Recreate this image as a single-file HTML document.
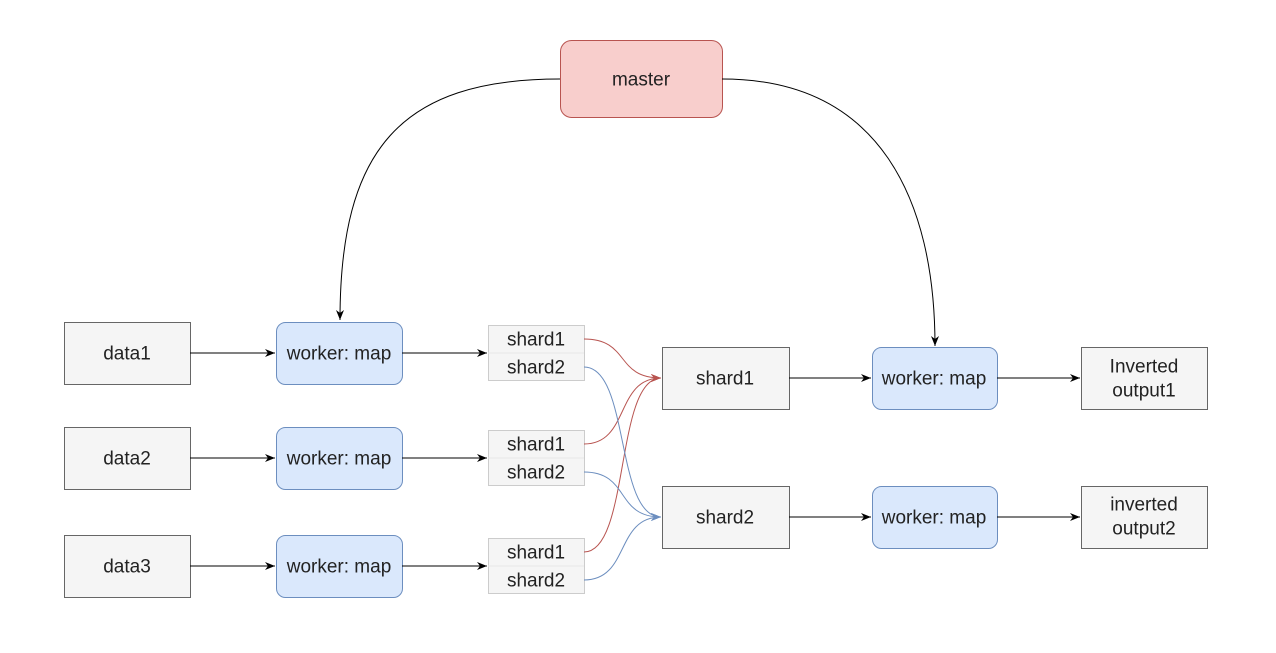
<!DOCTYPE html>
<html><head><meta charset="utf-8"><style>
html,body{margin:0;padding:0;background:#fff;width:1276px;height:653px;overflow:hidden}
text{font-family:"Liberation Sans",Arial,sans-serif;font-size:19px;fill:#222;text-anchor:middle;dominant-baseline:central}
</style></head><body>
<svg width="1276" height="653" viewBox="0 0 1276 653" xmlns="http://www.w3.org/2000/svg">
<defs>
<marker id="ak" markerWidth="12" markerHeight="12" refX="10" refY="6" orient="auto" markerUnits="userSpaceOnUse"><path d="M0,2 L10,6 L0,10 L3,6 Z" fill="#000"/></marker>
<marker id="ar" markerWidth="12" markerHeight="12" refX="10" refY="6" orient="auto" markerUnits="userSpaceOnUse"><path d="M0,2 L10,6 L0,10 L3,6 Z" fill="#b85450"/></marker>
<marker id="ab" markerWidth="12" markerHeight="12" refX="10" refY="6" orient="auto" markerUnits="userSpaceOnUse"><path d="M0,2 L10,6 L0,10 L3,6 Z" fill="#6c8ebf"/></marker>
</defs>
<rect x="560.5" y="40.5" width="162" height="77" rx="11" fill="#f8cecc" stroke="#b85450"/>
<text x="641" y="80">master</text>
<path d="M560 79 C 400 79, 340 150, 340 320" fill="none" stroke="#000" stroke-width="1" marker-end="url(#ak)"/>
<path d="M722 79 C 880 79, 935 200, 935 346" fill="none" stroke="#000" stroke-width="1" marker-end="url(#ak)"/>
<g stroke="#666" fill="#f5f5f5">
<rect x="64.5" y="322.5" width="126" height="62"/>
<rect x="64.5" y="427.5" width="126" height="62"/>
<rect x="64.5" y="535.5" width="126" height="62"/>
<rect x="662.5" y="347.5" width="127" height="62"/>
<rect x="662.5" y="486.5" width="127" height="62"/>
<rect x="1081.5" y="347.5" width="126" height="62"/>
<rect x="1081.5" y="486.5" width="126" height="62"/>
</g>
<g stroke="#6c8ebf" fill="#dae8fc">
<rect x="276.5" y="322.5" width="126" height="62" rx="9"/>
<rect x="276.5" y="427.5" width="126" height="62" rx="9"/>
<rect x="276.5" y="535.5" width="126" height="62" rx="9"/>
<rect x="872.5" y="347.5" width="125" height="62" rx="9"/>
<rect x="872.5" y="486.5" width="125" height="62" rx="9"/>
</g>
<g stroke="#ccc" fill="#f5f5f5">
<rect x="488.5" y="325.5" width="96" height="55"/><line x1="488" y1="353" x2="584" y2="353" stroke="#e6e6e6"/>
<rect x="488.5" y="430.5" width="96" height="55"/><line x1="488" y1="458" x2="584" y2="458" stroke="#e6e6e6"/>
<rect x="488.5" y="538.5" width="96" height="55"/><line x1="488" y1="566" x2="584" y2="566" stroke="#e6e6e6"/>
</g>
<text x="127" y="354">data1</text><text x="127" y="459">data2</text><text x="127" y="567">data3</text>
<text x="339" y="354">worker: map</text><text x="339" y="459">worker: map</text><text x="339" y="567">worker: map</text>
<text x="536" y="340">shard1</text><text x="536" y="368">shard2</text>
<text x="536" y="445">shard1</text><text x="536" y="473">shard2</text>
<text x="536" y="553">shard1</text><text x="536" y="581">shard2</text>
<text x="725" y="379">shard1</text><text x="725" y="518">shard2</text>
<text x="934" y="379">worker: map</text><text x="934" y="518">worker: map</text>
<text x="1144" y="367">Inverted</text><text x="1144" y="391">output1</text>
<text x="1144" y="505">inverted</text><text x="1144" y="529">output2</text>
<g stroke="#000" fill="none" marker-end="url(#ak)">
<line x1="190" y1="353" x2="275" y2="353"/><line x1="190" y1="458" x2="275" y2="458"/><line x1="190" y1="566" x2="275" y2="566"/>
<line x1="402" y1="353" x2="487" y2="353"/><line x1="402" y1="458" x2="487" y2="458"/><line x1="402" y1="566" x2="487" y2="566"/>
<line x1="789" y1="378" x2="871" y2="378"/><line x1="789" y1="517" x2="871" y2="517"/>
<line x1="997" y1="378" x2="1080" y2="378"/><line x1="997" y1="517" x2="1080" y2="517"/>
</g>
<g fill="none" stroke="#b85450" marker-end="url(#ar)">
<path d="M584 339 C 630 339, 615 378, 661 378"/>
<path d="M584 444 C 630 444, 615 378, 661 378"/>
<path d="M584 552 C 630 552, 615 378, 661 378"/>
</g>
<g fill="none" stroke="#6c8ebf" marker-end="url(#ab)">
<path d="M584 367 C 630 367, 615 517, 661 517"/>
<path d="M584 472 C 630 472, 615 517, 661 517"/>
<path d="M584 580 C 630 580, 615 517, 661 517"/>
</g>
</svg>
</body></html>
